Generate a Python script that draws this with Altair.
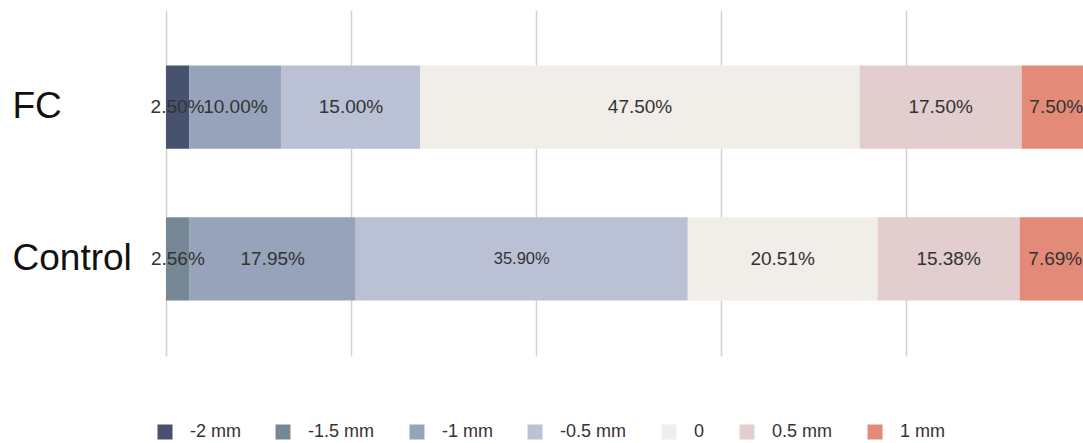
import altair as alt
import pandas as pd

groups = ["FC", "Control"]
levels = ["-2 mm", "-1.5 mm", "-1 mm", "-0.5 mm", "0", "0.5 mm", "1 mm"]
fc_values = [2.50, 0.0, 10.00, 15.00, 47.50, 17.50, 7.50]
control_values = [0.0, 2.56, 17.95, 35.90, 20.51, 15.38, 7.69]
colors = ["#47536e", "#768895", "#97a3bb", "#bac1d4", "#f1ede9", "#e2cdcf", "#e48a78"]

rows = []
for g, vals in zip(groups, [fc_values, control_values]):
    for i, (lvl, v) in enumerate(zip(levels, vals)):
        if v > 0:
            rows.append({"group": g, "level": lvl, "order": i, "value": v,
                         "label": f"{v:.2f}%"})
df = pd.DataFrame(rows)

FONT = "Liberation Sans"

base = alt.Chart(df).encode(
    y=alt.Y("group:N", sort=groups, title=None,
            scale=alt.Scale(paddingInner=0.45, paddingOuter=0.365),
            axis=alt.Axis(labelFontSize=37, labelColor="#111111", labelPadding=154,
                          labelAlign="left", labelLimit=300,
                          domain=False, ticks=False, grid=False, labelFont=FONT)),
)

bars = base.mark_bar(clip=True).encode(
    x=alt.X("value:Q", stack="zero", title=None,
            scale=alt.Scale(domain=[0, 99.14], nice=False, zero=True),
            axis=alt.Axis(values=[0, 20, 40, 60, 80, 100], labels=False, ticks=False,
                          domain=False, grid=True, gridColor="#d2d2d2", gridWidth=1.5)),
    color=alt.Color("level:N", sort=levels,
                    scale=alt.Scale(domain=levels, range=colors),
                    legend=alt.Legend(title=None, orient="none", direction="horizontal",
                                      legendX=-10, legendY=413, columns=7,
                                      columnPadding=33, labelOffset=16,
                                      symbolSize=225, symbolType="square",
                                      symbolStrokeWidth=0, symbolOpacity=1,
                                      labelFontSize=18, labelColor="#333333",
                                      labelFont=FONT, padding=0)),
    order=alt.Order("order:Q"),
)

text = base.mark_text(color="#333333", font=FONT).encode(
    x=alt.X("mid:Q"),
    text="label:N",
    size=alt.condition(alt.datum.label == "35.90%", alt.value(16.5), alt.value(19)),
).transform_window(
    cum="sum(value)", groupby=["group"], sort=[alt.SortField("order")],
    frame=[None, 0]
).transform_calculate(
    mid="datum.cum - datum.value / 2"
)

chart = alt.layer(bars, text).properties(
    width=917, height=346,
    padding={"left": 166, "top": 10, "right": 0, "bottom": 87},
    autosize=alt.AutoSizeParams(type="none"),
).configure(font=FONT, background="white", view=alt.ViewConfig(stroke=None))

chart.save("out.html", embed_options={"renderer": "svg", "actions": False})
